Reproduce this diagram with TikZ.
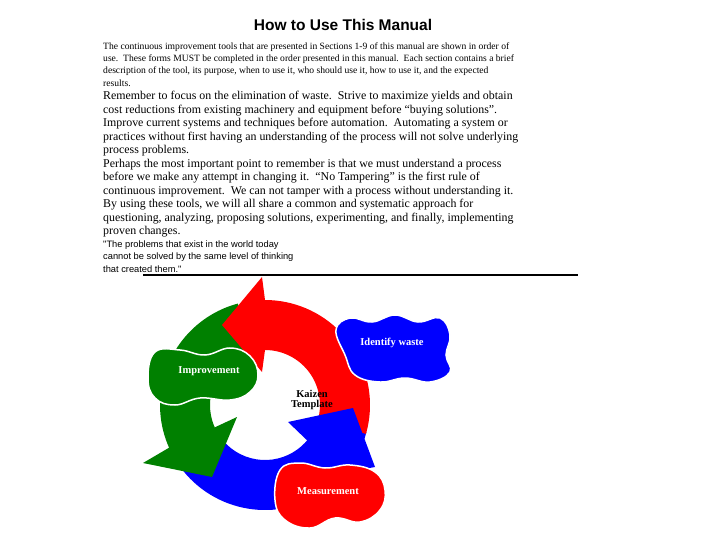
\documentclass[tikz,border=0pt]{standalone}
\usepackage{fontspec}
\setmainfont{Liberation Serif}
\newfontfamily\arial{Liberation Sans}
\begin{document}
\begin{tikzpicture}[x=1pt,y=-1pt,
  sm/.style={anchor=west,inner sep=0pt,font=\fontsize{9.6}{10}\selectfont},
  bg/.style={anchor=west,inner sep=0pt,font=\fontsize{11.9}{13}\selectfont},
  qt/.style={anchor=west,inner sep=0pt,font=\arial\fontsize{9.3}{10}\selectfont},
  blobtxt/.style={text=white,font=\bfseries\fontsize{10.5}{12}\selectfont},
  blob/.style={draw=white,line width=1.5pt}]
\useasboundingbox (0,0) rectangle (720,540);
\definecolor{kred}{RGB}{255,0,0}
\definecolor{kgreen}{RGB}{0,128,0}
\definecolor{kblue}{RGB}{0,0,255}
\node[font=\arial\bfseries\fontsize{15.5}{18}\selectfont] (title) at (343,25) {How to Use This Manual};
\node[sm] (s1) at (103,47) {The continuous improvement tools that are presented in Sections 1-9 of this manual are shown in order of};
\node[sm] (s2) at (103,59) {use.\ \ These forms MUST be completed in the order presented in this manual.\ \ Each section contains a brief};
\node[sm] (s3) at (103,71) {description of the tool, its purpose, when to use it, who should use it, how to use it, and the expected};
\node[sm] (s4) at (103,83) {results.};
\node[bg] (b1) at (103,97) {Remember to focus on the elimination of waste.\ \ Strive to maximize yields and obtain};
\node[bg] (b2) at (103,110.5) {cost reductions from existing machinery and equipment before ``buying solutions''.};
\node[bg] (b3) at (103,124) {Improve current systems and techniques before automation.\ \ Automating a system or};
\node[bg] (b4) at (103,137.5) {practices without first having an understanding of the process will not solve underlying};
\node[bg] (b5) at (103,151) {process problems.};
\node[bg] (b6) at (103,164.5) {Perhaps the most important point to remember is that we must understand a process};
\node[bg] (b7) at (103,178) {before we make any attempt in changing it.\ \ ``No Tampering'' is the first rule of};
\node[bg] (b8) at (103,191.5) {continuous improvement.\ \ We can not tamper with a process without understanding it.};
\node[bg] (b9) at (103,205) {By using these tools, we will all share a common and systematic approach for};
\node[bg] (b10) at (103,218.5) {questioning, analyzing, proposing solutions, experimenting, and finally, implementing};
\node[bg] (b11) at (103,232) {proven changes.};
\node[qt] (q1) at (103,245) {"The problems that exist in the world today};
\node[qt] (q2) at (103,257) {cannot be solved by the same level of thinking};
\node[qt] (q3) at (103,269) {that created them."};
\coordinate (la) at (143,275); \coordinate (lb) at (578,275);
\draw[line width=1.3pt] (la) -- (lb);
\coordinate (c) at (265,405);
\fill[kblue] ([shift={(150:105)}]c) arc[start angle=150,end angle=15,radius=105] -- ([shift={(15:55)}]c) arc[start angle=15,end angle=150,radius=55] -- cycle;
\fill[kgreen] ([shift={(255:105)}]c) arc[start angle=255,end angle=156,radius=105] -- (143,463) -- (212,477) -- (237,417) -- ([shift={(156:55)}]c) arc[start angle=156,end angle=255,radius=55] -- cycle;
\fill[kred] ([shift={(16:105)}]c) arc[start angle=16,end angle=-90,radius=105] -- (262,277) -- (222,325) -- (262,372) -- ([shift={(-90:55)}]c) arc[start angle=-90,end angle=16,radius=55] -- cycle;
\fill[kblue] ([shift={(40:105)}]c) -- (375,467) -- (353,408) -- (288,422) -- ([shift={(40:55)}]c) -- cycle;
\draw[blob,fill=kblue] plot[smooth cycle,tension=0.7] coordinates {(336,330) (350,318) (372,322) (395,315) (418,322) (440,318) (450,335) (446,355) (450,372) (430,382) (405,378) (380,382) (355,375) (345,355)};
\node[blobtxt] (iw) at (392,343) {Identify waste};
\draw[blob,fill=kgreen] plot[smooth cycle,tension=0.7] coordinates {(155,352) (180,350) (205,355) (230,348) (250,356) (258,375) (250,392) (230,400) (200,398) (175,405) (155,398) (148,378)};
\node[blobtxt] (im) at (209,371) {Improvement};
\draw[blob,fill=kred] plot[smooth cycle,tension=0.7] coordinates {(280,470) (300,463) (325,468) (350,465) (375,472) (385,490) (380,510) (360,522) (335,518) (310,528) (285,520) (275,500)};
\node[blobtxt] (ms) at (328,491) {Measurement};
\node[font=\bfseries\fontsize{10.5}{12}\selectfont,align=center] (kz) at (312,400) {Kaizen\\[-2pt]Template};
\end{tikzpicture}
\end{document}
